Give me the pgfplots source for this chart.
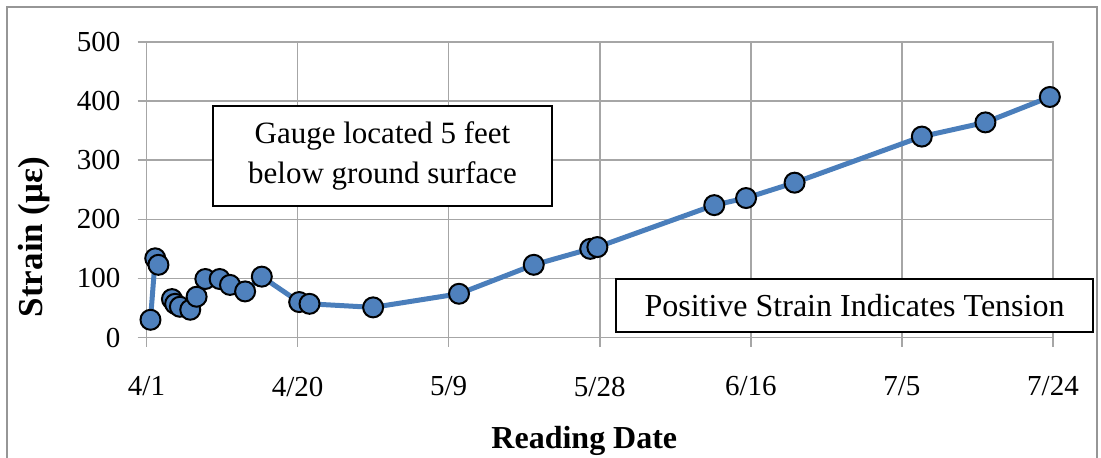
\documentclass[border=0pt]{standalone}
\usepackage{fontspec}
\setmainfont{Liberation Serif}
\usepackage{pgfplots}
\pgfplotsset{compat=1.18}
\definecolor{gridgray}{RGB}{166,166,166}
\definecolor{framegray}{RGB}{150,150,150}
\definecolor{lineblue}{RGB}{74,126,187}
\definecolor{markblue}{RGB}{79,129,189}
\begin{document}
\begin{tikzpicture}
\path[use as bounding box] (0,0) rectangle (550.5pt,228.5pt);
\draw[framegray, line width=1pt] (3.5pt,-5pt) -- (3.5pt,225pt) -- (548.5pt,225pt) -- (548.5pt,-5pt);
\begin{axis}[
  at={(73.25pt,59.75pt)}, anchor=south west,
  scale only axis, width=453.25pt, height=147.75pt,
  xmin=0, xmax=114, ymin=0, ymax=500,
  xtick={0,19,38,57,76,95,114},
  xticklabels={4/1,4/20,5/9,5/28,6/16,7/5,7/24},
  ytick={0,100,200,300,400,500},
  xtick pos=bottom, ytick pos=left,
  grid=major, major grid style={gridgray, line width=0.75pt},
  axis line style={gridgray, line width=0.75pt},
  tick style={gridgray, line width=0.75pt},
  tick align=outside, major tick length=4.5pt,
  /pgf/number format/assume math mode=true,
  ticklabel style={font=\fontsize{14.5}{17}\selectfont},
  xticklabel style={anchor=center, yshift=-20pt},
  yticklabel style={anchor=east, xshift=-5pt},
  xlabel={Reading Date},
  xlabel style={at={(axis description cs:0.483,-0.374)}, anchor=base,
    font=\bfseries\fontsize{16}{19}\selectfont},
  ylabel={Strain (με)},
  ylabel style={at={(axis description cs:-0.124,0.34)}, anchor=center,
    font=\bfseries\fontsize{17.5}{20}\selectfont},
  unbounded coords=jump,
]
\addplot[lineblue, line width=2.5pt, mark=*, mark size=5pt,
  mark options={fill=markblue, draw=black, line width=1pt}]
  table {
x y
0.5 30
1.1 134
1.5 123
2.3 nan
3.2 65
3.6 57
4.2 52
5.5 47
6.3 69
7.4 99
9.2 99
10.5 89
12.4 78
14.5 103
19.2 60
20.5 57
28.5 51
39.3 74
48.7 123
55.8 150
56.7 153
71.4 224
75.4 236
81.5 262
97.5 340
105.5 364
113.6 407
};
\end{axis}
\node[draw=black, line width=1pt, fill=white, align=center,
  minimum width=169.5pt, minimum height=50pt, inner sep=0pt,
  font=\fontsize{15.5}{20}\selectfont] at (191.25pt,150.5pt)
  {Gauge located 5 feet\\below ground surface};
\node[draw=black, line width=1pt, fill=white, align=center,
  minimum width=238.5pt, minimum height=26.5pt, inner sep=0pt,
  font=\fontsize{16}{18}\selectfont] at (427.25pt,75.75pt)
  {Positive Strain Indicates Tension};
\end{tikzpicture}
\end{document}
